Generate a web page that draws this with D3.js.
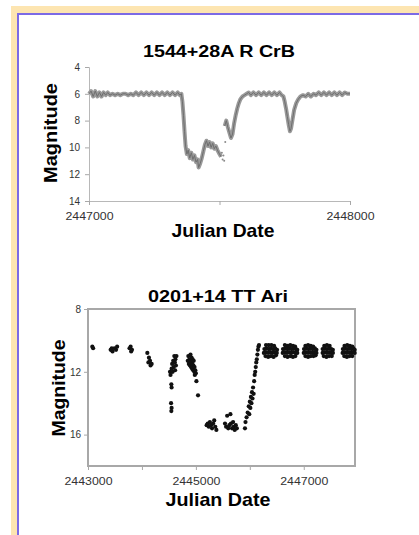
<!DOCTYPE html>
<html>
<head>
<meta charset="utf-8">
<script src="https://cdn.jsdelivr.net/npm/d3@7"></script>
<style>
  body { margin: 0; background: #fff; }
  svg { display: block; font-family: "Liberation Sans", Arial, sans-serif; }
</style>
</head>
<body>
<svg id="chart" width="419" height="535"></svg>
<script>
// R CrB light curve (JD, magnitude)
const crbTitle = "1544+28A R CrB";
const crbPoints = [
  [2447000,6.0],[2447008,5.8],[2447016,6.2],[2447024,5.8],[2447032,6.2],[2447040,5.9],[2447048,6.2],
  [2447056,5.9],[2447064,6.1],[2447072,5.9],[2447080,6.1],[2447090,6.0],[2447100,6.1],[2447110,6.0],
  [2447120,6.1],[2447130,6.0],[2447140,6.0],[2447150,6.1],[2447160,6.0],[2447170,6.1],[2447180,5.9],
  [2447190,6.1],[2447200,5.9],[2447210,6.1],[2447220,5.9],[2447230,6.1],[2447240,5.9],[2447250,6.1],
  [2447260,5.9],[2447270,6.1],[2447280,5.9],[2447290,6.1],[2447300,5.9],[2447310,6.1],[2447320,5.9],
  [2447330,6.1],[2447340,5.9],[2447348,6.1],[2447354,6.0],
  [2447358,6.6],[2447362,7.6],[2447366,8.8],[2447370,9.9],[2447375,10.5],[2447380,10.2],[2447386,10.8],
  [2447392,10.4],[2447398,10.9],[2447404,10.6],[2447410,11.1],[2447416,10.9],[2447420,11.5],[2447426,11.2],
  [2447432,10.8],[2447438,10.3],[2447444,9.8],[2447450,9.5],[2447456,9.9],[2447462,9.6],[2447468,10.0],
  [2447474,9.7],[2447480,10.1],[2447486,9.9],[2447492,10.2],[2447500,10.5],[2447506,10.7],
  null,
  [2447520,8.4],[2447526,8.0],[2447532,8.5],[2447538,8.9],[2447544,9.3],[2447550,9.0],[2447556,8.2],
  [2447562,7.6],[2447568,7.1],[2447574,6.7],[2447580,6.4],[2447588,6.2],[2447596,6.1],[2447604,6.0],
  [2447612,5.9],[2447620,6.1],[2447630,5.9],[2447640,6.1],[2447650,5.9],[2447660,6.1],[2447670,5.9],
  [2447680,6.1],[2447690,5.9],[2447700,6.1],[2447710,5.9],[2447720,6.1],[2447730,5.9],[2447738,6.1],
  [2447745,6.2],[2447750,6.6],[2447755,7.1],[2447760,7.7],[2447765,8.3],[2447770,8.8],[2447774,8.6],
  [2447780,7.9],[2447786,7.2],[2447794,6.7],[2447802,6.4],[2447810,6.2],
  [2447820,6.1],[2447830,6.2],[2447840,6.0],[2447850,6.2],[2447860,6.0],[2447870,6.1],[2447880,5.9],
  [2447890,6.1],[2447900,5.9],[2447910,6.1],[2447920,5.9],[2447930,6.1],[2447940,5.9],[2447950,6.1],
  [2447960,5.9],[2447970,6.1],[2447980,5.9],[2447990,6.0],[2448000,6.0]
];
const crbGapDots = [[2447509,10.4],[2447512,10.9],[2447515,10.6],[2447518,11.0],[2447522,9.6]];
const crbYTicks = [4, 6, 8, 10, 12, 14];
const crbXTicks = [2447000, 2447500, 2448000];
const crbXLabels = [2447000, 2448000];

// TT Ari light curve (JD, magnitude)
const ariTitle = "0201+14 TT Ari";
const ariPoints = [
  [2443080,10.4],[2443095,10.5],
  [2443420,10.6],[2443440,10.5],[2443455,10.7],[2443490,10.5],[2443520,10.6],[2443540,10.4],
  [2443770,10.5],[2443790,10.4],[2443800,10.7],[2443815,10.6],
  [2444100,10.8],[2444120,11.4],[2444130,11.1],[2444150,11.3],[2444160,11.6],[2444180,11.5],
  [2444520,12.0],[2444530,12.2],[2444550,11.8],[2444560,11.5],[2444570,12.0],[2444580,11.3],
  [2444590,11.7],[2444600,11.0],[2444610,11.4],[2444615,11.9],[2444620,11.2],[2444630,11.6],
  [2444640,11.0],[2444545,12.8],[2444550,13.0],[2444540,14.0],[2444550,14.3],[2444545,14.5],
  [2444850,11.3],[2444860,11.0],[2444870,11.5],[2444880,11.2],[2444890,11.6],[2444900,11.3],
  [2444900,10.9],[2444910,11.7],[2444915,11.4],[2444920,11.1],[2444930,11.8],[2444935,11.5],
  [2444940,11.2],[2444950,11.9],[2444955,11.6],[2444960,11.3],[2444970,12.0],[2444975,11.7],
  [2444980,12.2],[2444990,11.9],[2445000,12.1],[2445010,12.6],[2445040,13.5],
  [2445200,15.4],[2445220,15.3],[2445240,15.5],[2445260,15.2],[2445280,15.4],[2445300,15.6],
  [2445320,15.3],[2445340,15.1],[2445360,15.5],[2445380,15.7],
  [2445540,15.3],[2445560,15.5],[2445580,14.8],[2445600,15.6],[2445620,15.4],[2445640,14.7],
  [2445650,15.3],[2445670,15.6],[2445690,15.2],[2445700,15.5],[2445720,15.7],[2445740,15.4],
  [2445760,15.6],
  [2445910,15.6],[2445920,15.2],[2445940,14.9],[2445960,14.6],[2445980,14.2],[2445990,14.7],
  [2446000,13.9],[2446010,14.3],[2446020,13.6],[2446030,14.0],[2446040,13.3],[2446050,13.7],
  [2446060,13.0],[2446070,13.4],[2446080,12.6],[2446090,12.2],[2446100,12.0],[2446110,11.7],
  [2446120,11.4],[2446130,11.2],[2446140,10.9],[2446150,10.6],[2446160,10.4],[2446170,10.3],
  // plateau blob 1
  [2446300,10.3],[2446350,10.3],[2446400,10.3],[2446450,10.35],
  [2446270,10.55],[2446310,10.5],[2446350,10.55],[2446390,10.5],[2446430,10.55],[2446470,10.5],[2446505,10.6],
  [2446260,10.8],[2446300,10.75],[2446340,10.8],[2446380,10.75],[2446420,10.8],[2446460,10.75],[2446500,10.8],
  [2446290,11.0],[2446340,11.05],[2446390,11.0],[2446440,11.05],[2446485,10.95],
  // plateau blob 2
  [2446650,10.3],[2446700,10.35],[2446750,10.3],[2446800,10.35],[2446840,10.4],
  [2446615,10.55],[2446655,10.5],[2446695,10.55],[2446735,10.5],[2446775,10.55],[2446815,10.5],[2446855,10.55],[2446880,10.6],
  [2446610,10.8],[2446650,10.75],[2446690,10.8],[2446730,10.75],[2446770,10.8],[2446810,10.75],[2446850,10.8],[2446880,10.8],
  [2446650,11.0],[2446700,11.05],[2446750,11.0],[2446800,11.05],[2446845,11.0],
  // plateau blob 3
  [2447030,10.35],[2447080,10.3],[2447130,10.35],[2447175,10.4],
  [2447005,10.55],[2447045,10.5],[2447085,10.55],[2447125,10.5],[2447165,10.55],[2447205,10.5],[2447235,10.6],
  [2447000,10.8],[2447040,10.75],[2447080,10.8],[2447120,10.75],[2447160,10.8],[2447200,10.75],[2447235,10.8],
  [2447030,11.0],[2447080,11.05],[2447130,11.0],[2447180,11.0],[2447220,10.95],
  // plateau blob 4
  [2447380,10.35],[2447430,10.3],[2447480,10.35],
  [2447350,10.55],[2447390,10.5],[2447430,10.55],[2447470,10.5],[2447510,10.55],[2447540,10.6],
  [2447350,10.8],[2447390,10.75],[2447430,10.8],[2447470,10.75],[2447510,10.8],[2447540,10.8],
  [2447370,11.0],[2447420,11.05],[2447470,11.0],[2447520,11.0],
  // plateau blob 5
  [2447755,10.35],[2447805,10.3],[2447855,10.35],[2447900,10.4],
  [2447725,10.55],[2447765,10.5],[2447805,10.55],[2447845,10.5],[2447885,10.55],[2447920,10.5],[2447945,10.6],
  [2447720,10.8],[2447760,10.75],[2447800,10.8],[2447840,10.75],[2447880,10.8],[2447920,10.75],[2447945,10.8],
  [2447750,11.0],[2447800,11.05],[2447850,11.0],[2447900,11.0]
];
const ariYTicks = [8, 12, 16];
const ariXTicks = [2443000, 2444000, 2445000, 2446000, 2447000];
const ariXLabels = [2443000, 2445000, 2447000];

const svg = d3.select("#chart");

// page frame: beige band with a purple inner line
svg.append("rect").attr("x", 11).attr("y", 6).attr("width", 408).attr("height", 529).attr("fill", "#fde5b1");
svg.append("rect").attr("x", 17).attr("y", 13).attr("width", 402).attr("height", 522).attr("fill", "#7c6ae6");
svg.append("rect").attr("x", 19).attr("y", 15).attr("width", 400).attr("height", 520).attr("fill", "#fff");

// stretched text helper (the source picture is a bit wide)
function label(g, x, y, txt, size, len, rot) {
  const t = g.append("text")
    .attr("text-anchor", "middle")
    .attr("font-size", size)
    .attr("font-weight", "bold")
    .attr("textLength", len)
    .attr("lengthAdjust", "spacingAndGlyphs")
    .text(txt);
  if (rot) t.attr("transform", "translate(" + x + "," + y + ") rotate(-90)");
  else t.attr("x", x).attr("y", y);
  return t;
}

// ---- top chart ----
const x1 = d3.scaleLinear().domain([2447000, 2448000]).range([89, 350]);
const y1 = d3.scaleLinear().domain([4, 14]).range([67, 201]);
const g1 = svg.append("g");

g1.append("g").attr("transform", "translate(89,0)")
  .call(d3.axisLeft(y1).tickValues(crbYTicks).tickSize(4).tickPadding(5))
  .call(a => a.select(".domain").attr("stroke", "#b8b8b8"));
g1.append("g").attr("class", "xax").attr("transform", "translate(0,201)")
  .call(d3.axisBottom(x1).tickValues(crbXTicks).tickSize(4).tickPadding(8)
    .tickFormat(d => crbXLabels.includes(d) ? d : ""))
  .call(a => a.select(".domain").attr("stroke", "#b8b8b8"));

const crbLine = d3.line().defined(d => d != null).x(d => x1(d[0])).y(d => y1(d[1]));
g1.append("path")
  .datum(crbPoints)
  .attr("fill", "none")
  .attr("stroke", "#9a9a9a")
  .attr("stroke-width", 4)
  .attr("stroke-linejoin", "round")
  .attr("d", crbLine);
g1.append("path")
  .datum(crbPoints)
  .attr("fill", "none")
  .attr("stroke", "#6e6e6e")
  .attr("stroke-width", 1)
  .attr("d", crbLine);
g1.selectAll("circle.gap").data(crbGapDots).join("circle")
  .attr("class", "gap").attr("r", 1).attr("fill", "#8a8a8a")
  .attr("cx", d => x1(d[0])).attr("cy", d => y1(d[1]));

label(g1, 219, 57, crbTitle, 16, 152);
label(g1, 223, 237, "Julian Date", 19, 103);
label(g1, 57, 133, "Magnitude", 19, 100, true);

// ---- bottom chart ----
const x2 = d3.scaleLinear().domain([2443000, 2447950]).range([88, 355]);
const y2 = d3.scaleLinear().domain([8, 18]).range([309, 466]);
const g2 = svg.append("g");

g2.append("rect").attr("x", 88).attr("y", 309).attr("width", 267).attr("height", 157)
  .attr("fill", "none").attr("stroke", "#a8a8a8").attr("stroke-width", 2);
g2.append("g").attr("transform", "translate(88,0)")
  .call(d3.axisLeft(y2).tickValues(ariYTicks).tickSize(4).tickPadding(3))
  .call(a => a.select(".domain").remove());
g2.append("g").attr("class", "xax").attr("transform", "translate(0,466)")
  .call(d3.axisBottom(x2).tickValues(ariXTicks).tickSize(4).tickPadding(8)
    .tickFormat(d => ariXLabels.includes(d) ? d : ""))
  .call(a => a.select(".domain").remove());

g2.selectAll("circle.pt").data(ariPoints).join("circle")
  .attr("class", "pt").attr("r", 2.1).attr("fill", "#111")
  .attr("cx", d => x2(d[0])).attr("cy", d => y2(d[1]));

label(g2, 218, 302, ariTitle, 16, 140);
label(g2, 218, 506, "Julian Date", 19, 105);
label(g2, 65, 388, "Magnitude", 19, 97, true);

// axis styling
svg.selectAll(".tick line").attr("stroke", "#a8a8a8");
svg.selectAll(".tick text").attr("font-size", 10).attr("fill", "#333")
  .attr("font-family", "Liberation Sans, Arial, sans-serif");
svg.selectAll(".xax .tick text").filter(function() { return this.textContent !== ""; })
  .attr("textLength", 48).attr("lengthAdjust", "spacingAndGlyphs");
</script>
</body>
</html>
